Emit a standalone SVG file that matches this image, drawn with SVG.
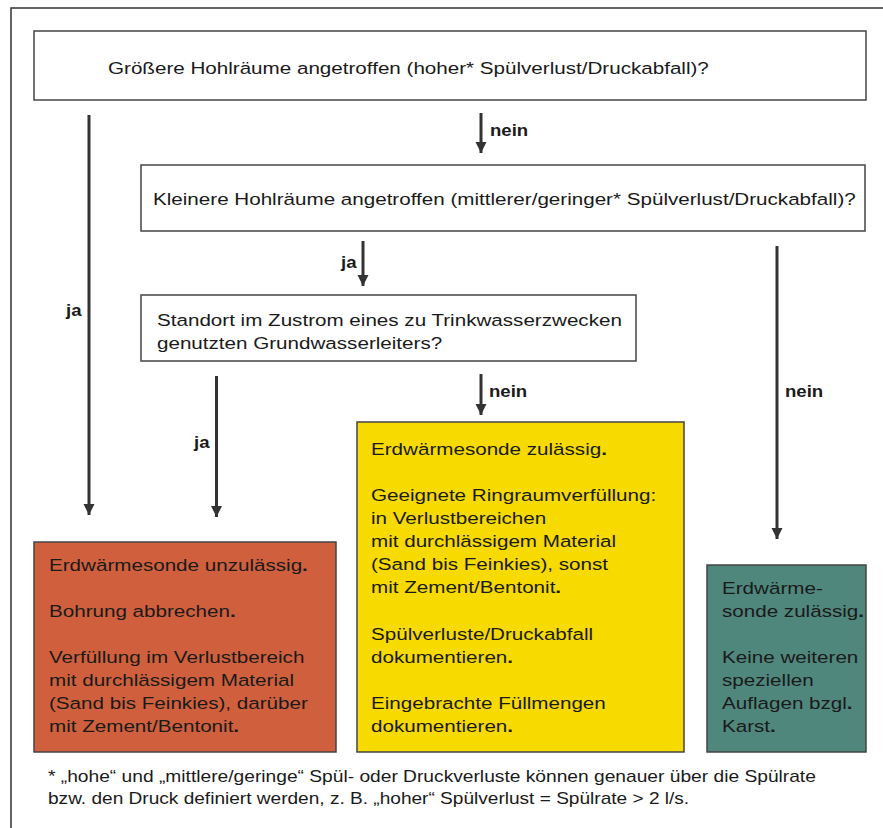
<svg xmlns="http://www.w3.org/2000/svg" width="883" height="828" viewBox="0 0 883 828">
<style>
text{font-family:"Liberation Sans",Arial,sans-serif;fill:#1a1a1a}
.m{font-size:17.4px}
.lb{font-size:15.7px;font-weight:bold}
.fn{font-size:16.1px}
.box{stroke:#444;stroke-width:1.5}
.ar{stroke:#333;stroke-width:3;fill:none;marker-end:url(#ah)}
.p{font-weight:bold}
</style>
<defs>
<marker id="ah" markerUnits="userSpaceOnUse" markerWidth="12" markerHeight="12" viewBox="0 0 12 12" refX="11" refY="6" orient="auto">
<path d="M0,0.5 L11,6 L0,11.5 Z" fill="#333"/>
</marker>
</defs>
<rect width="883" height="828" fill="#fff"/>
<path d="M11,828 V8 H883" fill="none" stroke="#333" stroke-width="1.5"/>

<g id="connectors">
<line class="ar" x1="481" y1="113" x2="481" y2="153"/>
<line class="ar" x1="89" y1="115" x2="89" y2="515"/>
<line class="ar" x1="363" y1="241" x2="363" y2="286"/>
<line class="ar" x1="216.5" y1="376" x2="216.5" y2="517"/>
<line class="ar" x1="481" y1="374" x2="481" y2="415"/>
<line class="ar" x1="777" y1="246" x2="777" y2="539"/>
<g transform="translate(490 0) scale(1.185 1)"><text class="lb" x="0" y="136">nein</text></g>
<g transform="translate(66 0) scale(1.185 1)"><text class="lb" x="0" y="316">ja</text></g>
<g transform="translate(341 0) scale(1.185 1)"><text class="lb" x="0" y="268">ja</text></g>
<g transform="translate(194 0) scale(1.185 1)"><text class="lb" x="0" y="448">ja</text></g>
<g transform="translate(489 0) scale(1.185 1)"><text class="lb" x="0" y="397">nein</text></g>
<g transform="translate(785 0) scale(1.185 1)"><text class="lb" x="0" y="397">nein</text></g>
</g>

<g id="q1">
<rect class="box" x="34" y="31" width="832" height="69" fill="#fff"/>
<g transform="translate(108 0) scale(1.185 1)"><text class="m" x="0" y="74">Größere Hohlräume angetroffen (hoher* Spülverlust/Druckabfall)?</text></g>
</g>

<g id="q2">
<rect class="box" x="141" y="165" width="724" height="66" fill="#fff"/>
<g transform="translate(153 0) scale(1.185 1)"><text class="m" x="0" y="205">Kleinere Hohlräume angetroffen (mittlerer/geringer* Spülverlust/Druckabfall)?</text></g>
</g>

<g id="q3">
<rect class="box" x="141" y="295" width="495" height="66" fill="#fff"/>
<g transform="translate(157 0) scale(1.185 1)"><text class="m" x="0" y="326">Standort im Zustrom eines zu Trinkwasserzwecken</text><text class="m" x="0" y="349">genutzten Grundwasserleiters?</text></g>
</g>

<g id="r-unzulaessig">
<rect class="box" x="34" y="542" width="302" height="210" fill="#d0603d"/>
<g transform="translate(49 0) scale(1.185 1)">
<text class="m" x="0" y="571">Erdwärmesonde unzulässig<tspan class="p">.</tspan></text>
<text class="m" x="0" y="617">Bohrung abbrechen<tspan class="p">.</tspan></text>
<text class="m" x="0" y="663">Verfüllung im Verlustbereich</text>
<text class="m" x="0" y="686">mit durchlässigem Material</text>
<text class="m" x="0" y="709">(Sand bis Feinkies), darüber</text>
<text class="m" x="0" y="732">mit Zement/Bentonit<tspan class="p">.</tspan></text>
</g>
</g>

<g id="r-zulaessig-auflagen">
<rect class="box" x="357" y="422" width="327" height="330" fill="#f7da00"/>
<g transform="translate(371 0) scale(1.185 1)">
<text class="m" x="0" y="455">Erdwärmesonde zulässig<tspan class="p">.</tspan></text>
<text class="m" x="0" y="501">Geeignete Ringraumverfüllung:</text>
<text class="m" x="0" y="524">in Verlustbereichen</text>
<text class="m" x="0" y="547">mit durchlässigem Material</text>
<text class="m" x="0" y="570">(Sand bis Feinkies), sonst</text>
<text class="m" x="0" y="593">mit Zement/Bentonit<tspan class="p">.</tspan></text>
<text class="m" x="0" y="640">Spülverluste/Druckabfall</text>
<text class="m" x="0" y="663">dokumentieren<tspan class="p">.</tspan></text>
<text class="m" x="0" y="709">Eingebrachte Füllmengen</text>
<text class="m" x="0" y="732">dokumentieren<tspan class="p">.</tspan></text>
</g>
</g>

<g id="r-zulaessig">
<rect class="box" x="707" y="565" width="159" height="187" fill="#50877d"/>
<g transform="translate(722 0) scale(1.185 1)">
<text class="m" x="0" y="594">Erdwärme-</text>
<text class="m" x="0" y="617">sonde zulässig<tspan class="p">.</tspan></text>
<text class="m" x="0" y="663">Keine weiteren</text>
<text class="m" x="0" y="686">speziellen</text>
<text class="m" x="0" y="709">Auflagen bzgl<tspan class="p">.</tspan></text>
<text class="m" x="0" y="732">Karst<tspan class="p">.</tspan></text>
</g>
</g>

<g id="footnote" transform="translate(48 0) scale(1.185 1)">
<text class="fn" x="0" y="782" textLength="648" lengthAdjust="spacingAndGlyphs">* „hohe“ und „mittlere/geringe“ Spül- oder Druckverluste können genauer über die Spülrate</text>
<text class="fn" x="0" y="804">bzw. den Druck definiert werden, z. B. „hoher“ Spülverlust = Spülrate &gt; 2 l/s.</text>
</g>
</svg>
